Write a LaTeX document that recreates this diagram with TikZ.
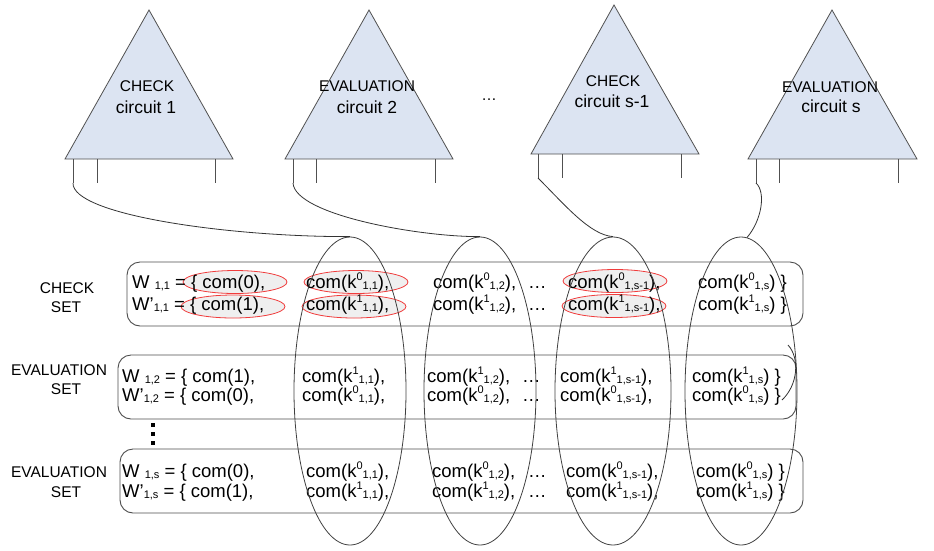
\documentclass[tikz,border=0pt]{standalone}
\usepackage{fontspec}
\setmainfont{Liberation Sans}
\usetikzlibrary{shapes.geometric}
\definecolor{triblue}{HTML}{DCE4F2}
\definecolor{tristroke}{HTML}{505050}
\definecolor{redline}{HTML}{F03C3C}
\definecolor{redfill}{HTML}{EFEFEF}
\newcommand\ksup[1]{\raisebox{8pt}{\fontsize{11}{13}\selectfont #1}}
\newcommand\ksub[1]{\raisebox{-1.5pt}{\fontsize{11}{13}\selectfont #1}}
\newcommand\kk[2]{k\ksup{#1}\ksub{#2}}
\newcommand\cellrow[4]{%
 \node[txt] (#1a) at (\xa,#2) {#3};
 \node[txt] (#1b) at (\xb,#2) {com(\kk{#4}{1,1}),};
 \node[txt] (#1c) at (\xc,#2) {com(\kk{#4}{1,2}),};
 \node[txt] (#1d) at (\xd,#2) {…};
 \node[txt] (#1e) at (\xe,#2) {com(\kk{#4}{1,s-1}),};
 \node[txt] (#1f) at (\xf,#2) {com(\kk{#4}{1,s}) \}};
}
\begin{document}
\begin{tikzpicture}[x=1pt,y=-1pt,
  tri/.style={draw=tristroke,fill=triblue,line width=0.8pt,line join=miter},
  leg/.style={draw=tristroke,line width=1pt},
  conn/.style={draw=black!80,line width=0.8pt},
  setbox/.style={draw=black!70,rounded corners=13pt,line width=0.9pt},
  redell/.style={ellipse,draw=redline,fill=redfill,line width=0.8pt,inner sep=0pt,minimum width=104pt,minimum height=23pt},
  bigell/.style={ellipse,draw=black!75,line width=0.8pt,inner sep=0pt,minimum width=112pt,minimum height=308pt},
  txt/.style={font=\fontsize{18.5}{21}\selectfont,inner sep=0pt,anchor=base west},
  lbl/.style={font=\fontsize{15.5}{18}\selectfont,inner sep=0pt,anchor=base},
  circ/.style={font=\fontsize{17.5}{20}\selectfont,inner sep=0pt,anchor=base},
]
\useasboundingbox (0,0) rectangle (934,550);

% triangles
\draw[tri] (149,10) -- (65,159) -- (233,159) -- cycle;
\draw[tri] (369,10) -- (285,159) -- (453,159) -- cycle;
\draw[tri] (614,5) -- (531,154) -- (699,154) -- cycle;
\draw[tri] (832,10) -- (748,159) -- (917,159) -- cycle;
% legs
\coordinate (L1) at (73,183);
\coordinate (L2) at (293,183);
\coordinate (L3) at (538,178);
\coordinate (L4) at (756,183);
\draw[leg] (73,159) -- (L1);  \draw[leg] (97,159) -- (97,183);  \draw[leg] (215,159) -- (215,183);
\draw[leg] (293,159) -- (L2); \draw[leg] (316,159) -- (316,183); \draw[leg] (435,159) -- (435,183);
\draw[leg] (538,154) -- (L3); \draw[leg] (562,154) -- (562,178); \draw[leg] (681,154) -- (681,178);
\draw[leg] (756,159) -- (L4); \draw[leg] (779,159) -- (779,183); \draw[leg] (898,159) -- (898,183);

\node[lbl] (t1a) at (147,91) {CHECK};
\node[circ] (t1b) at (146,113) {circuit 1};
\node[lbl] (t2a) at (367,91) {EVALUATION};
\node[circ] (t2b) at (367,113) {circuit 2};
\node[lbl] (t3a) at (613,86) {CHECK};
\node[circ] (t3b) at (612,107) {circuit s-1};
\node[lbl] (t4a) at (830,92) {EVALUATION};
\node[circ] (t4b) at (831,112) {circuit s};
\node[lbl] (tdots) at (489,100) {…};

% set boxes
\draw[setbox] (127,262) rectangle (803,326);
\draw[setbox] (118,355) rectangle (796,419);
\draw[setbox] (120,449) rectangle (803,513);

% side labels
\node[lbl] (s1a) at (67,293) {CHECK};
\node[lbl] (s1b) at (66,312) {SET};
\node[lbl] (s2a) at (59,375) {EVALUATION};
\node[lbl] (s2b) at (66,394) {SET};
\node[lbl] (s3a) at (59,477) {EVALUATION};
\node[lbl] (s3b) at (66,497) {SET};

% vertical dots
\fill (151,423) rectangle (155,427);
\fill (151,432) rectangle (155,436);
\fill (151,441) rectangle (155,445);

% red ellipses
\node[redell] (r1) at (235,282) {};
\node[redell] (r2) at (233,306.5) {};
\node[redell] (r3) at (356,282) {};
\node[redell] (r4) at (354,306.5) {};
\node[redell] (r5) at (615,281) {};
\node[redell] (r6) at (614,306) {};

% set texts
\def\xa{132}\def\xb{306}\def\xc{433}\def\xd{528}\def\xe{568}\def\xf{698}
\cellrow{ca}{288}{W \ksub{1,1} = \{ com(0),}{0}
\cellrow{cb}{310}{W’\ksub{1,1} = \{ com(1),}{1}
\def\xa{122}\def\xb{302}\def\xc{427}\def\xd{522}\def\xe{560}\def\xf{692}
\cellrow{ea}{382}{W \ksub{1,2} = \{ com(1),}{1}
\cellrow{eb}{401}{W’\ksub{1,2} = \{ com(0),}{0}
\def\xa{122}\def\xb{306}\def\xc{432}\def\xd{528}\def\xe{566}\def\xf{696}
\cellrow{fa}{477}{W \ksub{1,s} = \{ com(0),}{0}
\cellrow{fb}{497}{W’\ksub{1,s} = \{ com(1),}{1}

% big ellipses
\node[bigell] (E1) at (350,391) {};
\node[bigell] (E2) at (480,391) {};
\node[bigell,minimum width=116pt] (E3) at (613,391) {};
\node[bigell] (E4) at (741,391) {};

% connectors
\draw[conn] (L1) .. controls (72,215) and (230,237) .. (E1.north);
\draw[conn] (L2) .. controls (295,215) and (420,237) .. (E2.north);
\draw[conn] (L3) .. controls (565,205) and (590,235) .. (E3.north);
\draw[conn] (L4) .. controls (766,192) and (762,220) .. (747,237.5);
\coordinate (h1) at (788,345);
\coordinate (h2) at (782,400);
\draw[conn] (h1) .. controls (800,358) and (798,385) .. (h2);
\end{tikzpicture}
\end{document}
